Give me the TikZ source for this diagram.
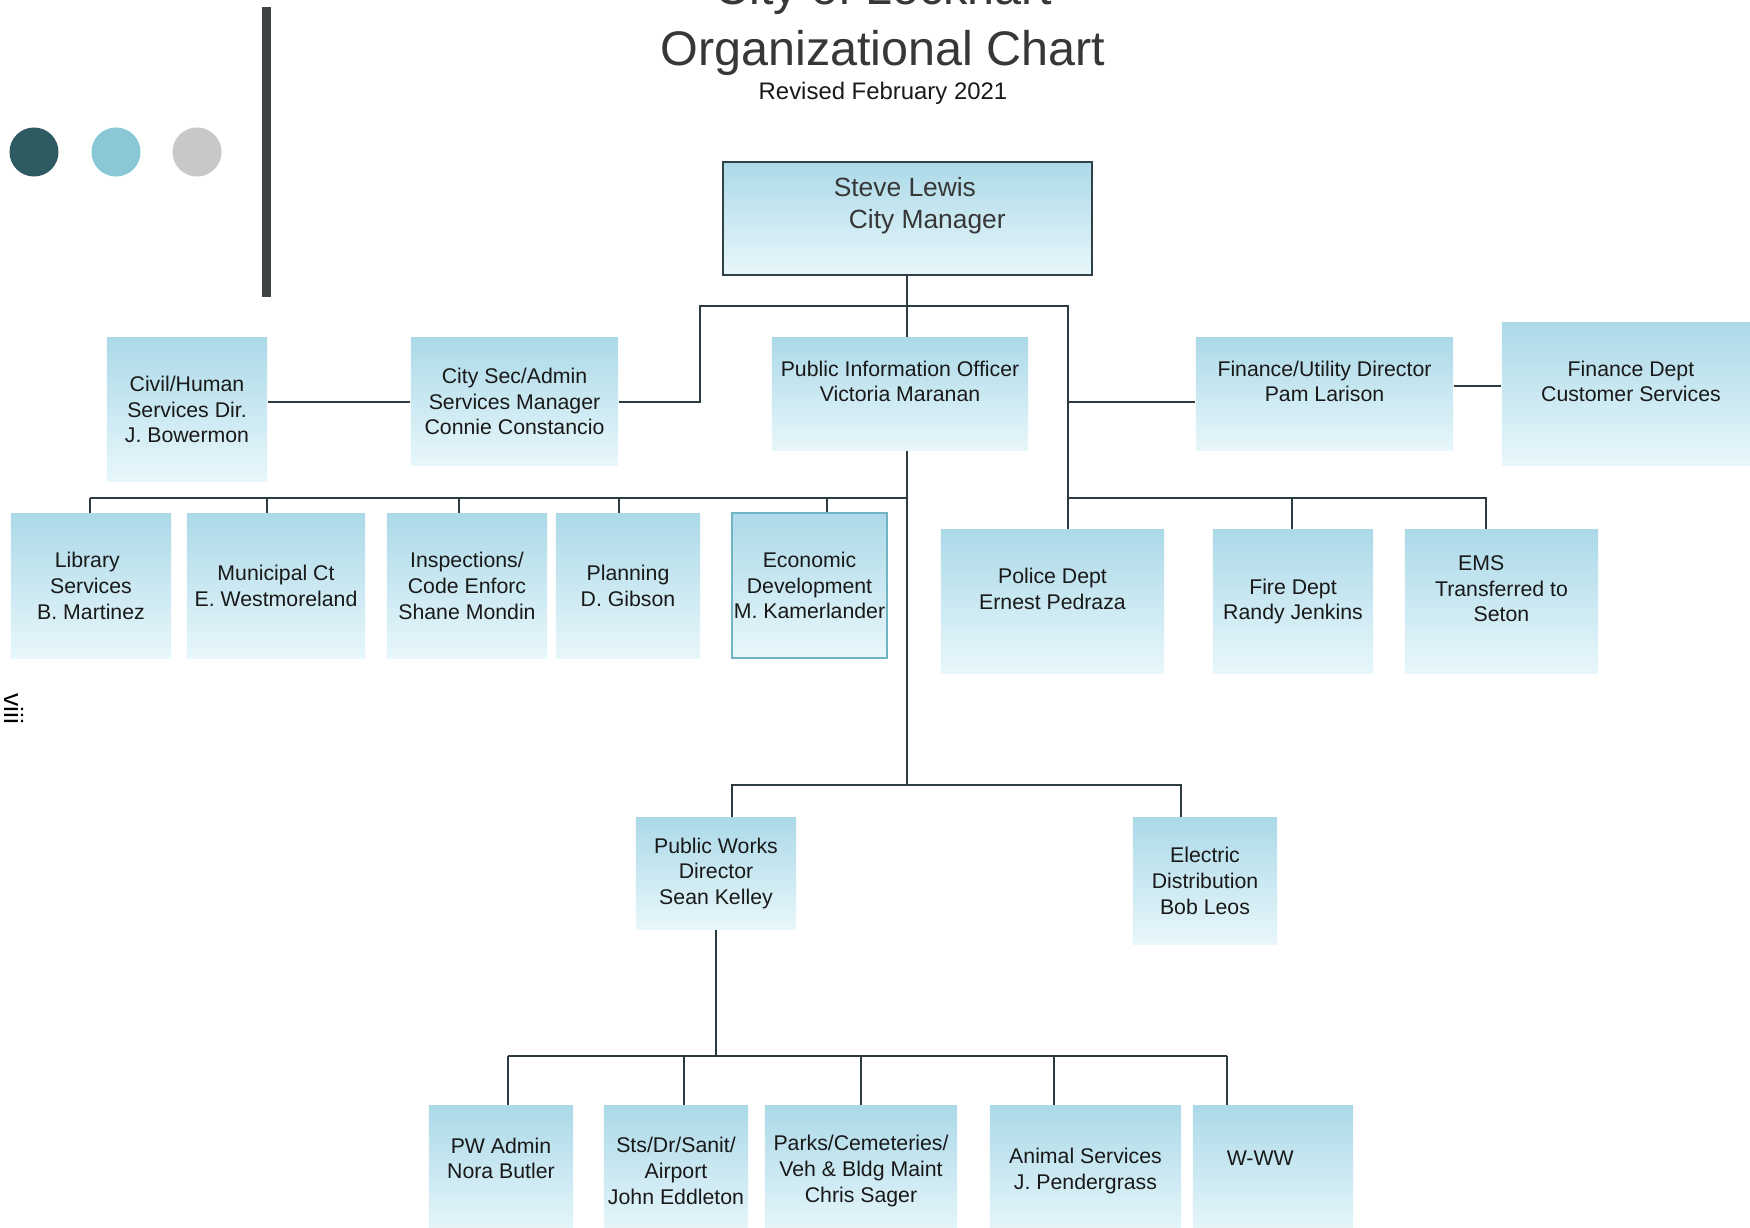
\documentclass[tikz,border=0pt]{standalone}
\usepackage{fontspec}
\setmainfont{Liberation Sans}
\definecolor{boxtop}{RGB}{172,217,232}
\definecolor{boxbot}{RGB}{232,247,251}
\definecolor{lineclr}{RGB}{44,60,64}
\definecolor{cmborder}{RGB}{48,66,72}
\definecolor{ecoborder}{RGB}{112,180,196}
\definecolor{txtclr}{RGB}{25,25,25}
\definecolor{titleclr}{RGB}{55,55,55}
\definecolor{dotdark}{RGB}{46,90,98}
\definecolor{dotlight}{RGB}{138,200,216}
\definecolor{dotgray}{RGB}{200,200,200}
\definecolor{barclr}{RGB}{62,68,68}
\tikzset{
  conn/.style={draw=lineclr, line width=0.65pt},
  box/.style={rectangle, top color=boxtop, bottom color=boxbot, draw=none,
    align=center, text=txtclr, inner sep=0pt,
    font=\fontsize{6.05}{7.3}\selectfont},
  dot/.style={circle, minimum size=0.49cm, inner sep=0pt, draw=none},
}
\begin{document}
\begin{tikzpicture}[x=0.01cm, y=-0.01cm]
\useasboundingbox (0,0) rectangle (1750,1228);
\clip (0,0) rectangle (1750,1228);
\fill[white] (0,0) rectangle (1750,1228);

% decoration
\node[dot, fill=dotdark] (d1) at (34,152) {};
\node[dot, fill=dotlight] (d2) at (116,152) {};
\node[dot, fill=dotgray] (d3) at (197,152) {};
\fill[barclr] (262,7) rectangle (271,297);
\node[rotate=-90, font=\fontsize{7.5}{9}\selectfont, inner sep=0pt] (pg) at (14,709) {viii};

% titles
\node[anchor=base, inner sep=0pt, text=titleclr, font=\fontsize{13.8}{16}\selectfont] (t1) at (883,5) {City of Lockhart};
\node[anchor=base, inner sep=0pt, text=titleclr, font=\fontsize{13.8}{16}\selectfont] (t2) at (883,66) {Organizational Chart};
\node[anchor=base, inner sep=0pt, text=txtclr, font=\fontsize{6.8}{8}\selectfont] (t3) at (883,100) {Revised February 2021};

% boxes
\node[box, draw=cmborder, line width=0.7pt, minimum width=3.69cm, minimum height=1.13cm,
  font=\fontsize{7.5}{9.1}\selectfont, text=titleclr] (cm) at (907.5,218.5)
  {Steve Lewis\hspace*{0.2em}\\\hspace*{1.5em}City Manager\\\mbox{}};
\node[box, minimum width=1.60cm, minimum height=1.43cm] (civ) at (187,409.5) {Civil/Human\\Services Dir.\\J. Bowermon};
\node[box, minimum width=2.07cm, minimum height=1.27cm] (sec) at (514.5,401.5) {City Sec/Admin\\Services Manager\\Connie Constancio};
\node[box, minimum width=2.56cm, minimum height=1.12cm] (pio) at (900,394) {Public Information Officer\\Victoria Maranan\\\mbox{}};
\node[box, minimum width=2.57cm, minimum height=1.12cm] (fin) at (1324.5,394) {Finance/Utility Director\\Pam Larison\\\mbox{}};
\node[box, minimum width=2.58cm, minimum height=1.42cm] (fcs) at (1631,394) {Finance Dept\\Customer Services\\\mbox{}};

\node[box, minimum width=1.60cm, minimum height=1.44cm] (lib) at (91,586) {Library\hspace*{0.35em}\\Services\\B. Martinez};
\node[box, minimum width=1.78cm, minimum height=1.44cm] (mun) at (276,586) {Municipal Ct\\E. Westmoreland};
\node[box, minimum width=1.60cm, minimum height=1.44cm] (ins) at (467,586) {Inspections/\\Code Enforc\\Shane Mondin};
\node[box, minimum width=1.44cm, minimum height=1.44cm] (pla) at (628,586) {Planning\\D. Gibson};
\node[box, draw=ecoborder, line width=0.45pt, minimum width=1.55cm, minimum height=1.45cm] (eco) at (809.5,585.5) {Economic\\Development\\M. Kamerlander};
\node[box, minimum width=2.23cm, minimum height=1.43cm] (pol) at (1052.5,601.5) {Police Dept\\Ernest Pedraza\\\mbox{}};
\node[box, minimum width=1.60cm, minimum height=1.43cm] (fir) at (1293,601.5) {Fire Dept\\Randy Jenkins};
\node[box, minimum width=1.93cm, minimum height=1.43cm] (ems) at (1501.5,601.5) {EMS\hspace*{1.9em}\\Transferred to\\Seton\\\mbox{}};

\node[box, minimum width=1.60cm, minimum height=1.11cm] (pw) at (716,873.5) {Public Works\\Director\\Sean Kelley};
\node[box, minimum width=1.44cm, minimum height=1.26cm] (ele) at (1205,881) {Electric\\Distribution\\Bob Leos};

\node[box, minimum width=1.44cm, minimum height=1.30cm] (pwa) at (501,1171) {PW Admin\\Nora Butler\\\mbox{}};
\node[box, minimum width=1.44cm, minimum height=1.30cm] (sts) at (676,1171) {Sts/Dr/Sanit/\\Airport\\John Eddleton};
\node[box, minimum width=1.92cm, minimum height=1.30cm] (par) at (861,1171) {Parks/Cemeteries/\\Veh \& Bldg Maint\\Chris Sager};
\node[box, minimum width=1.91cm, minimum height=1.30cm] (ani) at (1085.5,1171) {Animal Services\\J. Pendergrass};
\node[box, minimum width=1.60cm, minimum height=1.30cm] (www) at (1273,1171) {W-WW\hspace*{1.2em}\\\mbox{}};

% junction coordinates
\coordinate (jc) at (907,306);
\coordinate (jl) at (700,306);
\coordinate (jr) at (1068,306);
\coordinate (jf) at (1068,402);
\coordinate (jg) at (1453,386);
\coordinate (b2l) at (90,498);
\coordinate (b2c) at (907,498);
\coordinate (b2r) at (1486,498);
\coordinate (dmun) at (267,498);
\coordinate (dins) at (459,498);
\coordinate (dpla) at (619,498);
\coordinate (deco) at (827,498);
\coordinate (dfir) at (1292,498);
\coordinate (jb) at (907,785);
\coordinate (bl) at (732,785);
\coordinate (br) at (1181,785);
\coordinate (pwb) at (716,1056);
\coordinate (e1) at (508,1056);
\coordinate (e2) at (684,1056);
\coordinate (e3) at (861,1056);
\coordinate (e4) at (1054,1056);
\coordinate (e5) at (1227,1056);

% connectors
\draw[conn] (cm.south -| jc) -- (jc);
\draw[conn] (sec.east |- 0,402) -| (jl) -- (jr) -- (jr |- pol.north);
\draw[conn] (civ.east |- 0,402) -- (sec.west |- 0,402);
\draw[conn] (jc) -- (jc |- pio.north);
\draw[conn] (jc |- pio.south) -- (jb);
\draw[conn] (jf) -- (jf -| fin.west);
\draw[conn] (fin.east |- jg) -- (fcs.west |- jg);
\draw[conn] (b2l) -- (b2c);
\draw[conn] (b2l) -- (b2l |- lib.north);
\draw[conn] (dmun) -- (dmun |- mun.north);
\draw[conn] (dins) -- (dins |- ins.north);
\draw[conn] (dpla) -- (dpla |- pla.north);
\draw[conn] (deco) -- (deco |- eco.north);
\draw[conn] (jr |- b2l) -- (b2r) -- (b2r |- ems.north);
\draw[conn] (dfir) -- (dfir |- fir.north);
\draw[conn] (bl |- pw.north) -- (bl) -- (br) -- (br |- ele.north);
\draw[conn] (pw.south) -- (pwb);
\draw[conn] (e1) -- (e5);
\draw[conn] (e1) -- (e1 |- pwa.north);
\draw[conn] (e2) -- (e2 |- sts.north);
\draw[conn] (e3) -- (e3 |- par.north);
\draw[conn] (e4) -- (e4 |- ani.north);
\draw[conn] (e5) -- (e5 |- www.north);
\end{tikzpicture}
\end{document}
